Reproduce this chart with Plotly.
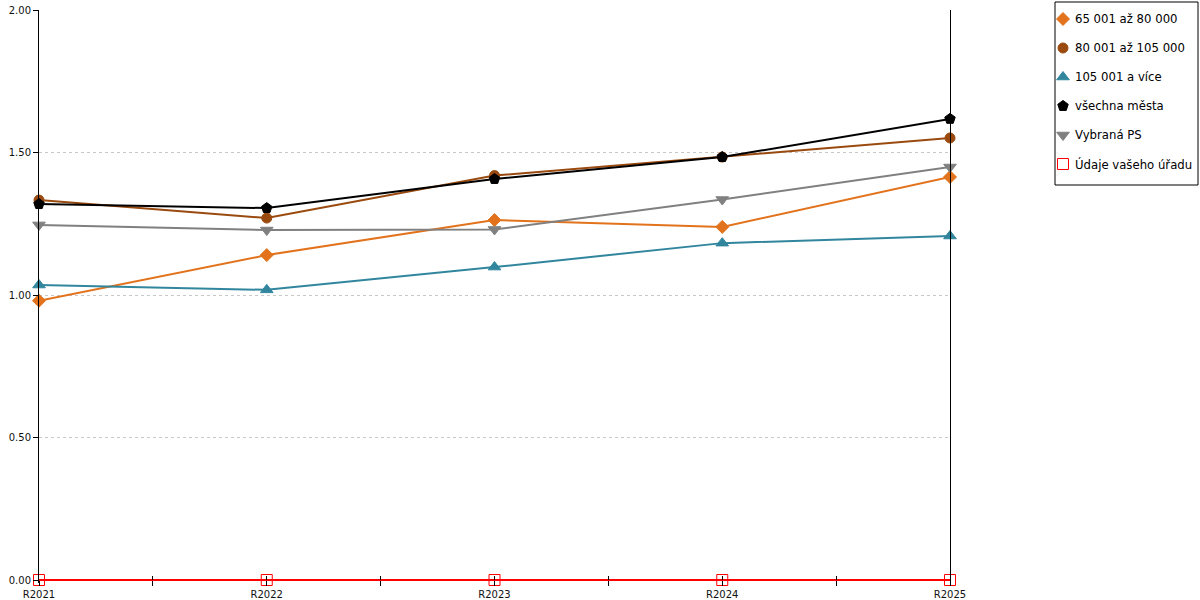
import plotly.graph_objects as go

years = ["R2021", "R2022", "R2023", "R2024", "R2025"]

mesta_65_80 = [0.98, 1.14, 1.263, 1.239, 1.414]
mesta_80_105 = [1.333, 1.27, 1.419, 1.484, 1.551]
mesta_105_plus = [1.035, 1.018, 1.098, 1.182, 1.207]
vsechna_mesta = [1.319, 1.305, 1.407, 1.484, 1.618]
vybrana_ps = [1.246, 1.228, 1.23, 1.335, 1.449]
vas_urad = [0, 0, 0, 0, 0]

series = [
    ("65 001 až 80 000", mesta_65_80, "#E2731C", "diamond", 10),
    ("80 001 až 105 000", mesta_80_105, "#9A4A0E", "circle", 10),
    ("105 001 a více", mesta_105_plus, "#31869E", "triangle-up", 11),
    ("všechna města", vsechna_mesta, "#000000", "pentagon", 11),
    ("Vybraná PS", vybrana_ps, "#808080", "triangle-down", 11),
    ("Údaje vašeho úřadu", vas_urad, "#FF0000", "square-open", 11),
]

x = list(range(len(years)))

# figure geometry (px)
W, H = 1200, 600
ML, MT, MB = 39, 2, 17
plot_right = 950
plot_top = 10
zero_px = 580
plot_bottom = 583  # a few px below the 0.00 line so the red line is not clipped
leg_left, leg_right, leg_top, leg_bottom = 1055, 1198, 2, 185
inner_w = W - ML
inner_h = H - MT - MB

fig = go.Figure()
for i, (name, vals, color, symbol, size) in enumerate(series):
    fig.add_trace(go.Scatter(
        x=x, y=vals, mode="lines+markers", name=name,
        line=dict(color=color, width=2),
        marker=dict(symbol=symbol, size=size, color=color, line=dict(width=1, color=color)),
        showlegend=False, cliponaxis=False,
    ))

# hand-drawn legend on its own axes in the right-hand area
leg_y = [17 + 29 * i for i in range(len(series))]
for i, (name, vals, color, symbol, size) in enumerate(series):
    fig.add_trace(go.Scatter(
        x=[8], y=[leg_y[i]], xaxis="x3", yaxis="y3", mode="markers",
        marker=dict(symbol=symbol, size=size, color=color, line=dict(width=1, color=color)),
        showlegend=False, hoverinfo="skip", cliponaxis=False,
    ))
    fig.add_annotation(x=18, y=leg_y[i], xref="x3", yref="y3", text=name,
                       showarrow=False, xanchor="left", yanchor="middle",
                       font=dict(size=11.7, color="#000000"))

# second x axis only for the inner half of the crossing tick marks
fig.add_trace(go.Scatter(x=[0, 4], y=[0, 0], xaxis="x2", mode="markers",
                         marker=dict(opacity=0), showlegend=False, hoverinfo="skip"))

fig.add_shape(type="rect", xref="paper", yref="paper",
              x0=(leg_left - ML) / inner_w, x1=(leg_right - ML) / inner_w,
              y0=(H - MB - leg_bottom) / inner_h, y1=(H - MB - leg_top) / inner_h,
              line=dict(color="black", width=1))

main_dom_x = [0, (plot_right - ML) / inner_w]
main_dom_y = [0, (H - MB - plot_top) / inner_h]
y_low = -2 * (plot_bottom - zero_px) / (zero_px - plot_top)
x_axis_pos = (H - MB - zero_px) / inner_h

fig.update_layout(
    width=W, height=H,
    margin=dict(l=ML, r=0, t=MT, b=MB),
    plot_bgcolor="white", paper_bgcolor="white",
    font=dict(family="DejaVu Sans", size=10, color="#111111"),
    showlegend=False,
    xaxis=dict(
        domain=main_dom_x, range=[0, 4], tickvals=x, ticktext=years,
        anchor="free", position=x_axis_pos,
        showgrid=False, zeroline=False, showline=False, automargin=False,
        ticks="outside", ticklen=5, tickcolor="black",
        minor=dict(tickvals=[0.5, 1.5, 2.5, 3.5], ticks="outside", ticklen=5, tickcolor="black"),
    ),
    xaxis2=dict(
        domain=main_dom_x, range=[0, 4], overlaying="x", anchor="free", position=x_axis_pos,
        side="bottom", tickvals=[0, 0.5, 1, 1.5, 2, 2.5, 3, 3.5, 4],
        ticks="inside", ticklen=4, tickcolor="black", automargin=False,
        showticklabels=False, showgrid=False, zeroline=False, showline=False,
    ),
    yaxis=dict(
        domain=main_dom_y, range=[y_low, 2], tickvals=[0, 0.5, 1, 1.5, 2], tickformat=".2f",
        showgrid=True, gridcolor="#C8C8C8", griddash="dot", gridwidth=1, automargin=False,
        zeroline=False, showline=True, linecolor="black", linewidth=1, mirror=True,
        ticks="outside", ticklen=5, tickcolor="black",
    ),
    xaxis3=dict(
        domain=[(leg_left - ML) / inner_w, (leg_right - ML) / inner_w], anchor="y3",
        range=[0, leg_right - leg_left], visible=False,
    ),
    yaxis3=dict(
        domain=[(H - MB - leg_bottom) / inner_h, (H - MB - leg_top) / inner_h], anchor="x3",
        range=[leg_bottom - leg_top, 0], visible=False,
    ),
)

fig.write_html("out.html", config={"displayModeBar": False},
               post_script="document.body.style.margin = '0';")
